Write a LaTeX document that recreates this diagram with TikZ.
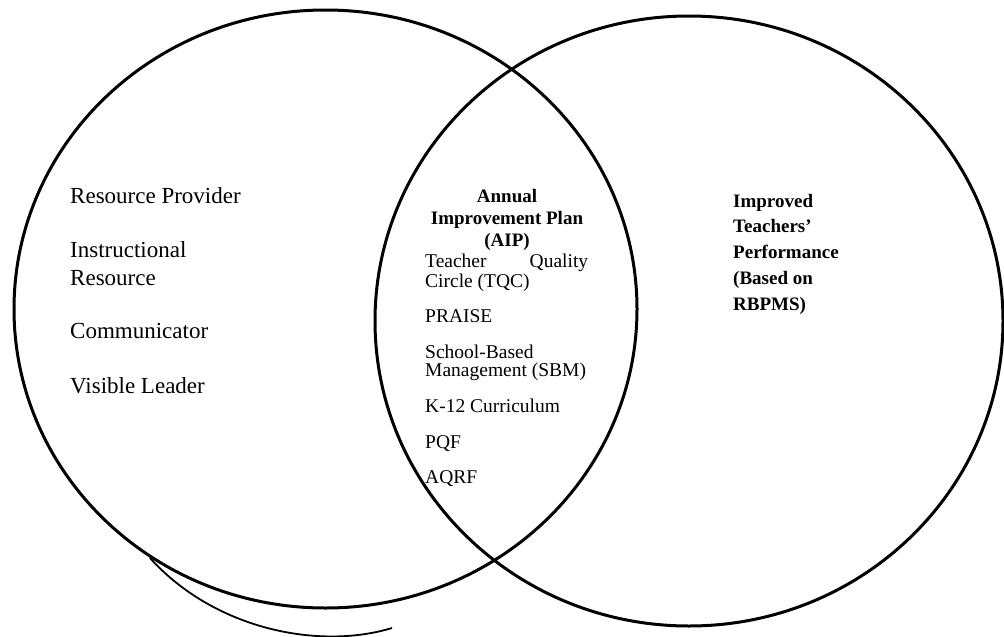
\documentclass[tikz,border=0pt]{standalone}
\usepackage{fontspec}
\setmainfont{Liberation Serif}
\usetikzlibrary{positioning}

\begin{document}
\begin{tikzpicture}[
    x=1pt, y=-1pt,
    ring/.style={draw, line width=3pt},
    role/.style={anchor=base west, inner sep=0pt, align=left, font=\fontsize{23}{28}\selectfont},
    item/.style={anchor=base west, inner sep=0pt, align=left, font=\fontsize{19.5}{20}\selectfont},
    head/.style={anchor=base, inner sep=0pt, align=center, font=\bfseries\fontsize{19}{22}\selectfont},
    result/.style={anchor=base west, inner sep=0pt, align=left, font=\bfseries\fontsize{19}{25.7}\selectfont}
]
\useasboundingbox (0,0) rectangle (1004,637);

% Two overlapping circles
\draw[ring] (325.5,309) ellipse [x radius=311.5pt, y radius=299pt];
\draw[ring] (689,321) ellipse [x radius=314pt, y radius=305pt];

% Loose stroke under the left circle
\draw[line width=1.8pt] (150,558) .. controls (215,630) and (320,650) .. (392,628);

% Left circle: roles (base = last line)
\node[role] (prov) at (70,203) {Resource Provider};
\node[role] (instr) at (70,285) {Instructional\\Resource};
\node[role] (comm) at (70,338) {Communicator};
\node[role] (lead) at (70,393) {Visible Leader};

% Overlap: plan and programs
\node[head] (aip) at (507,246) {Annual\\Improvement Plan\\(AIP)};
\node[item] (tqc) at (425,287) {\makebox[163pt][s]{Teacher Quality}\\Circle (TQC)};
\node[item] (praise) at (425,322) {PRAISE};
\node[item, font=\fontsize{19.5}{18}\selectfont] (sbm) at (425,376) {School-Based\\Management (SBM)};
\node[item] (k12) at (425,412) {K-12 Curriculum};
\node[item] (pqf) at (425,448) {PQF};
\node[item] (aqrf) at (425,483) {AQRF};

% Right circle: outcome
\node[result] (perf) at (733,310) {Improved\\Teachers’\\Performance\\(Based on\\RBPMS)};

\end{tikzpicture}
\end{document}
